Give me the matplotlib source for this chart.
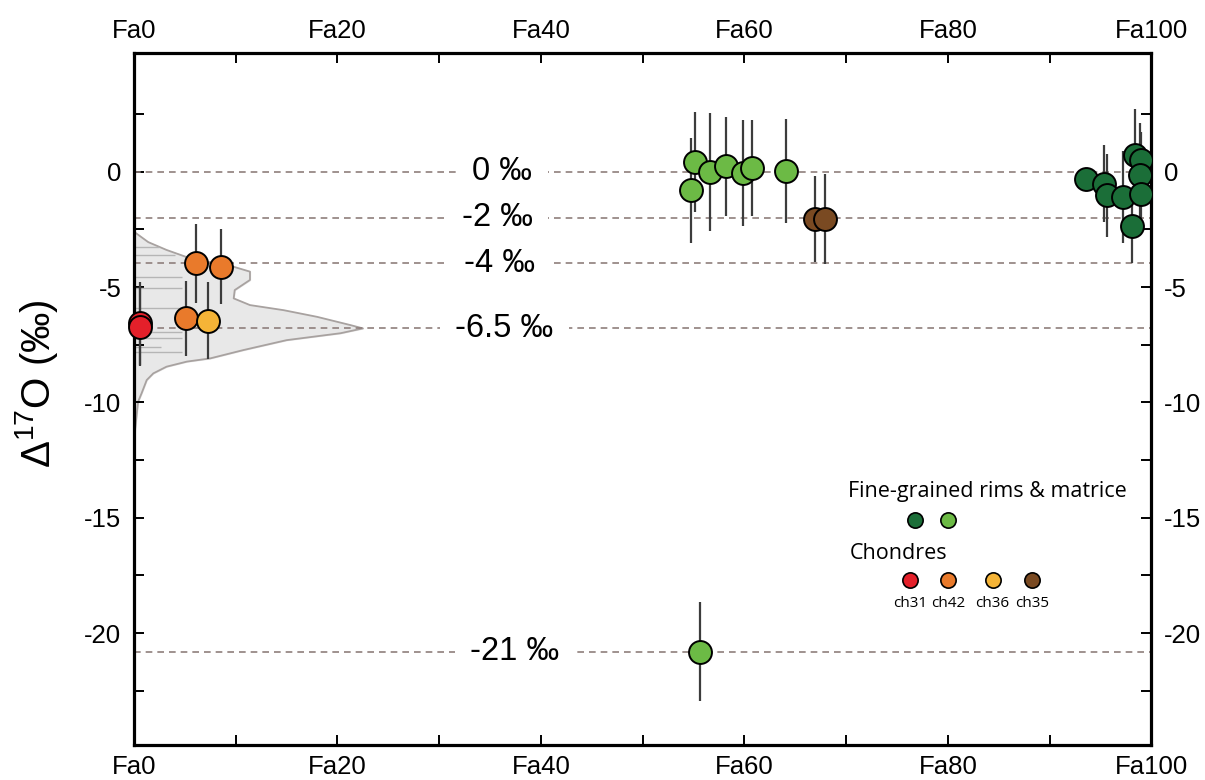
import numpy as np
import matplotlib
matplotlib.use('Agg')
import matplotlib.pyplot as plt
from matplotlib.ticker import FixedLocator, MultipleLocator, FuncFormatter

plt.rcParams['font.family'] = ['Liberation Sans', 'DejaVu Sans']
plt.rcParams['mathtext.fontset'] = 'custom'
plt.rcParams['mathtext.rm'] = 'Liberation Sans'

# chondrules (Fa, D17O, 1 sigma)
ch31_fa = [0.6, 0.6]
ch31_d17 = [-6.57, -6.72]
ch31_err = [1.8, 1.7]

ch42_fa = [6.1, 8.6, 5.1]
ch42_d17 = [-3.97, -4.12, -6.36]
ch42_err = [1.7, 1.63, 1.63]

ch36_fa = [7.3]
ch36_d17 = [-6.46]
ch36_err = [1.67]

ch35_fa = [66.9, 67.9]
ch35_d17 = [-2.05, -2.05]
ch35_err = [1.86, 1.95]

# fine-grained rims & matrix
light_fa = [55.1, 54.7, 56.6, 58.2, 59.9, 60.7, 64.1, 55.6]
light_d17 = [0.42, -0.8, 0.0, 0.24, -0.05, 0.16, 0.03, -20.8]
light_err = [2.15, 2.27, 2.55, 2.15, 2.3, 2.07, 2.25, 2.15]

dark_fa = [93.6, 95.3, 95.6, 97.2, 98.1, 98.4, 99.0, 98.9, 99.0]
dark_d17 = [-0.33, -0.51, -1.01, -1.08, -2.35, 0.72, 0.5, -0.14, -0.97]
dark_err = [0.4, 1.68, 1.8, 2.0, 1.62, 2.0, 1.23, 2.25, 1.5]

# density of chondrule values near Fa0
dens_d17 = [-2.6, -3.05, -3.39, -3.75, -4.12, -4.33, -4.69, -5.13, -5.49, -5.78,
            -6.0, -6.29, -6.65, -6.79, -7.0, -7.3, -7.73, -8.09, -8.23, -8.45,
            -8.74, -9.03, -9.6, -9.97, -11.6]
dens_fa = [0.0, 1.4, 3.2, 5.5, 9.8, 11.4, 11.4, 9.9, 9.8, 11.4,
           14.7, 18.0, 21.3, 22.5, 20.3, 15.0, 10.75, 7.5, 5.2, 3.2,
           1.9, 1.25, 0.75, 0.4, 0.0]
rug_d17 = [-3.25, -3.6, -4.55, -5.06, -5.92, -6.94, -7.22, -7.59, -7.8]
rug_len = [2.5, 4.0, 4.7, 4.7, 4.7, 4.7, 4.7, 2.7, 4.7]

ref_vals = [0, -2, -3.96, -6.78, -20.8]
ref_labels = ['0 ‰', '-2 ‰', '-4 ‰', '-6.5 ‰', '-21 ‰']
ref_label_fa = [36.2, 35.7, 35.9, 36.4, 37.4]

yticks_major = [-20, -15, -10, -5, 0]
yticks_minor = [-22.5, -17.5, -12.5, -7.5, -2.5, 2.5]

c_dark = '#1b6e38'
c_light = '#6cba45'
c_red = '#e4202a'
c_orange = '#e97a2b'
c_yellow = '#f5b437'
c_brown = '#7a4a22'

fig = plt.figure(figsize=(12.05, 7.8), dpi=100)
ax = fig.add_axes([0.1112, 0.0449, 0.8443, 0.8872])
ax.set_xlim(0, 100)
ax.set_ylim(-24.85, 5.15)

ax.fill_betweenx(dens_d17, 0, dens_fa, color='#e8e8e8', zorder=1)
ax.plot(dens_fa, dens_d17, color='#a8a2a0', lw=1.3, zorder=1.5)
ax.hlines(rug_d17, 0, rug_len, color='#b5b5b5', lw=1.0, zorder=1.6)

for v, lab, lx in zip(ref_vals, ref_labels, ref_label_fa):
    ax.axhline(v, color='#8f7f7c', lw=1.2, dashes=(4, 3), zorder=2)
    ax.text(lx, v, lab, fontsize=23.5, ha='center', va='center', zorder=3,
            bbox=dict(facecolor='white', edgecolor='none', pad=11))

ms = 16.5
groups = [(ch42_fa, ch42_d17, ch42_err, c_orange, True),
          (ch36_fa, ch36_d17, ch36_err, c_yellow, True),
          (ch31_fa, ch31_d17, ch31_err, c_red, False),
          (light_fa, light_d17, light_err, c_light, True),
          (ch35_fa, ch35_d17, ch35_err, c_brown, True),
          (dark_fa, dark_d17, dark_err, c_dark, True)]
for fa, d17, err, col, clip in groups:
    eb = ax.errorbar(fa, d17, yerr=err, fmt='o', ms=ms, mfc=col, mec='black', mew=1.4,
                     ecolor='#3c3c3c', elinewidth=1.6, capsize=0, zorder=4)
    if not clip:
        eb[0].set_clip_on(False)
        eb[0].set_zorder(6)

# axes styling
for s in ax.spines.values():
    s.set_linewidth(2.3)
ax.xaxis.set_major_locator(MultipleLocator(20))
ax.xaxis.set_minor_locator(MultipleLocator(10))
ax.yaxis.set_major_locator(FixedLocator(yticks_major))
ax.yaxis.set_minor_locator(FixedLocator(yticks_minor))
ax.xaxis.set_major_formatter(FuncFormatter(lambda v, p: 'Fa%d' % v))
ax.yaxis.set_major_formatter(FuncFormatter(lambda v, p: '%d' % v))
ax.tick_params(which='both', direction='in', top=True, right=True,
               labeltop=True, labelright=True, width=1.4, length=7, labelsize=18.5)
ax.tick_params(axis='x', pad=7)
ax.tick_params(axis='y', pad=9)

fig.text(37 / 1205, 1 - 384 / 780, 'Δ$^{17}$O (‰)', rotation=90,
         ha='center', va='center', fontsize=29)

# legend
lf = ['Open Sans', 'DejaVu Sans']
ax.text(0.702, 0.366, 'Fine-grained rims & matrice', transform=ax.transAxes,
        fontsize=15.5, family=lf, ha='left', va='center')
for x, c in zip([0.768, 0.800], [c_dark, c_light]):
    ax.plot([x], [0.325], 'o', transform=ax.transAxes, ms=11, mfc=c, mec='black', mew=1.2)
ax.text(0.704, 0.277, 'Chondres', transform=ax.transAxes,
        fontsize=15.5, family=lf, ha='left', va='center')
leg_x = [0.763, 0.800, 0.844, 0.883]
leg_c = [c_red, c_orange, c_yellow, c_brown]
leg_t = ['ch31', 'ch42', 'ch36', 'ch35']
for x, c, t in zip(leg_x, leg_c, leg_t):
    ax.plot([x], [0.238], 'o', transform=ax.transAxes, ms=11, mfc=c, mec='black', mew=1.2)
    ax.text(x, 0.205, t, transform=ax.transAxes, fontsize=11, family=lf,
            ha='center', va='center')

fig.savefig('out.png', dpi=100)
